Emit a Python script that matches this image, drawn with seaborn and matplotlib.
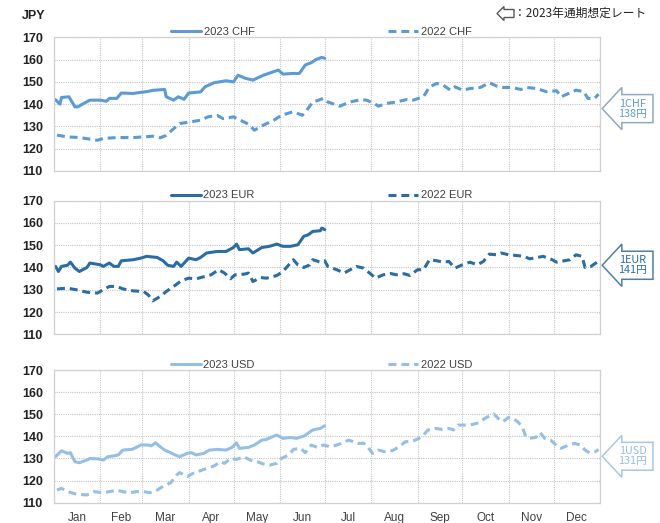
import numpy as np
import pandas as pd
import matplotlib
matplotlib.use("Agg")
import matplotlib.pyplot as plt
import matplotlib.transforms as mtransforms
from matplotlib.patches import Polygon
from matplotlib.lines import Line2D
import seaborn as sns

# ---------------- data ----------------
months = ["Jan", "Feb", "Mar", "Apr", "May", "Jun", "Jul", "Aug", "Sep", "Oct", "Nov", "Dec"]
month_start = [0, 31, 59, 90, 120, 151, 181, 212, 243, 273, 304, 334, 365]
yticks = [110, 120, 130, 140, 150, 160, 170]

currencies = ["CHF", "EUR", "USD"]
budget_rate = [138, 141, 131]

chf23_day = [1, 4, 5, 10, 14, 16, 19, 24, 31, 35, 37, 42, 45, 53, 58, 62, 66, 74, 75, 80,
             83, 87, 90, 98, 101, 107, 115, 120, 123, 128, 133, 140, 150, 153, 160, 164, 168, 172, 175, 179, 181]
chf23 = [142, 140, 143, 143.3, 138.8, 138.8, 140, 141.8, 141.8, 141.3, 142.6, 142.6, 145, 144.8, 145.3, 145.6, 146.2, 146.6, 143.3, 141.8,
         143.3, 142.2, 145, 145.5, 147.8, 149.6, 150.5, 150, 153, 151.6, 150.8, 153, 155.3, 153.5, 153.8, 153.8, 157.6, 158.6, 160, 161, 160.6]

chf22_day = [2, 9, 17, 29, 33, 42, 53, 60, 66, 71, 75, 80, 84, 91, 98, 103, 109, 113, 120, 124,
             130, 134, 140, 147, 152, 160, 166, 169, 173, 177, 180, 183, 191, 198, 205, 209, 214, 217, 222, 229,
             236, 240, 247, 251, 256, 260, 265, 268, 273, 278, 285, 291, 296, 300, 306, 312, 316, 323, 329, 336,
             339, 345, 349, 354, 357, 361, 364]
chf22 = [126.1, 125.3, 125, 123.8, 124.6, 125, 125, 125.3, 125.6, 124.9, 126, 129, 131.3, 132, 132.8, 134.3, 135, 133.5, 134.3, 133,
         131, 128.3, 130.6, 132.8, 135, 136.6, 135, 137.3, 141, 141.8, 142.6, 141, 139.1, 141, 142, 141.8, 140.3, 139.1, 140.3, 141,
         142.1, 141.8, 143.3, 147.8, 149.3, 148.6, 146.3, 147.8, 146.3, 147, 147.5, 149.6, 148.1, 147.5, 147.5, 146.6, 147.5, 147, 145.6, 146,
         143.3, 145.1, 146.3, 145.6, 142.6, 142.3, 144.5]

eur23_day = [1, 3, 5, 9, 11, 14, 17, 22, 24, 31, 33, 37, 40, 43, 45, 53, 58, 62, 69, 73,
             76, 80, 82, 85, 90, 95, 98, 102, 109, 115, 120, 122, 124, 130, 133, 139, 144, 149, 153, 158,
             163, 167, 170, 173, 178, 179, 181]
eur23 = [140.5, 138.2, 140.5, 141, 142.4, 139.7, 138.2, 140, 142, 141.2, 140.5, 142, 140.5, 140.5, 143, 143.5, 144.2, 145, 144.5, 143,
         141, 140.5, 142.4, 140.5, 144.2, 143.5, 144.5, 146.5, 147.2, 147.2, 149, 150.5, 148, 148.4, 146.5, 149, 149.5, 150.5, 149.5, 149.5,
         150.2, 154, 154.7, 156.2, 156.5, 157.7, 157]

eur22_day = [2, 9, 15, 22, 29, 33, 37, 42, 46, 53, 60, 63, 66, 71, 75, 80, 85, 90, 95, 101,
             105, 110, 114, 118, 121, 127, 130, 133, 138, 142, 149, 153, 160, 163, 167, 171, 173, 178, 181, 183,
             189, 194, 198, 202, 207, 211, 215, 220, 225, 229, 234, 238, 243, 247, 251, 256, 260, 264, 268, 273,
             278, 283, 287, 291, 296, 299, 304, 309, 314, 318, 323, 327, 333, 336, 341, 345, 349, 353, 355, 359, 363]
eur22 = [130.4, 130.7, 130, 128.9, 128.5, 130, 131.5, 131.5, 130.4, 129.5, 129.2, 127.7, 125, 127, 129.2, 131.5, 134, 135.2, 134.9, 136,
         136.7, 139, 137.5, 134.9, 136.7, 137, 137.5, 133.7, 135.5, 135.2, 136.4, 138.2, 143.5, 141.2, 140, 141.2, 143.5, 142.4, 143, 140.5,
         139, 137.5, 139, 140.5, 139.7, 137.5, 135.2, 136.7, 137.3, 136.7, 137.2, 136.4, 139, 139, 143.5, 143, 142.4, 142.7, 139.7, 141.2,
         142.4, 141.2, 142.7, 146, 145.7, 146.5, 145.7, 145.4, 145, 143.9, 144.5, 145, 143.5, 142.4, 143, 143.5, 145.7, 145, 140, 140.5, 142.4]

usd23_day = [1, 5, 9, 11, 14, 17, 22, 24, 30, 33, 36, 40, 43, 46, 52, 55, 58, 63, 65, 68,
             71, 74, 78, 81, 84, 89, 92, 95, 100, 104, 109, 115, 119, 122, 124, 130, 134, 139, 142, 147,
             149, 153, 158, 162, 167, 169, 173, 178, 181]
usd23 = [130.8, 133.5, 132.3, 132.6, 128.5, 128.1, 129.3, 130, 129.8, 129.3, 130.8, 131.2, 131.6, 133.8, 134.1, 135, 136.1, 136.1, 135.7, 137.1,
         135.3, 133.8, 132.6, 131.6, 130.8, 132.3, 132.6, 131.6, 132.3, 133.8, 134.1, 133.8, 135, 137.1, 134.6, 135, 136.1, 138.3, 138.6, 140.1,
         140.6, 139.1, 139.5, 139.1, 140.1, 141, 142.9, 143.6, 144.8]

usd22_day = [2, 5, 9, 15, 22, 27, 33, 37, 42, 46, 51, 55, 60, 64, 69, 73, 78, 82, 84, 89,
             93, 98, 102, 107, 111, 114, 118, 122, 127, 131, 136, 140, 144, 149, 152, 157, 160, 165, 168, 172,
             176, 180, 185, 189, 192, 197, 200, 203, 207, 210, 213, 217, 221, 226, 230, 235, 239, 244, 247, 250,
             255, 259, 264, 267, 270, 276, 280, 284, 288, 291, 294, 297, 300, 304, 307, 310, 313, 315, 317, 322,
             325, 328, 332, 334, 337, 339, 344, 348, 352, 355, 358, 362, 364]
usd22 = [115.7, 116.5, 115, 113.9, 113.5, 115, 114.5, 115, 115.7, 115, 114.5, 115, 115, 114.5, 115.7, 117.5, 119, 122.5, 123.6, 121.8,
         123.3, 124.5, 125.5, 126.6, 128.5, 127.8, 130, 129.6, 130.8, 129.3, 128.5, 127.5, 127, 127.8, 130, 131.6, 134.1, 134.6, 132.6, 136.1,
         135, 136.1, 135.3, 136.1, 136.8, 138.3, 137.6, 136.8, 136.9, 135, 132.3, 133.8, 133.1, 133.5, 135, 137.6, 137.6, 139.1, 140.6, 142.9,
         143.6, 143.2, 143.6, 142.9, 145.1, 145.1, 145.4, 146.2, 148.1, 149.2, 150.1, 148.1, 146.6, 148.6, 148.1, 146.6, 144.4, 140.6, 139.1, 139.5,
         141.7, 139.1, 138.3, 137.1, 135, 134.6, 136.1, 136.8, 136.1, 133.8, 132.6, 133.1, 134.1]

colors = ["#5B9BD5", "#2A6DA5", "#95BFE5"]
arrow_edge = ["#8FA9C4", "#4F7FA8", "#A9C8E3"]

series = {
    "CHF": [(chf23_day, chf23), (chf22_day, chf22)],
    "EUR": [(eur23_day, eur23), (eur22_day, eur22)],
    "USD": [(usd23_day, usd23), (usd22_day, usd22)],
}

# ---------------- style ----------------
sns.set_style("white")
plt.rcParams["font.family"] = ["Liberation Sans", "Noto Sans CJK JP", "DejaVu Sans"]

fig = plt.figure(figsize=(6.6, 5.23), dpi=100)
rects = [(0.0818, 0.6731, 0.8273, 0.2555),
         (0.0818, 0.3608, 0.8273, 0.2555),
         (0.0818, 0.0388, 0.8273, 0.2537)]

month_mid = [(month_start[i] + month_start[i + 1]) / 2 for i in range(12)]
dash = (0, (2.6, 1.6))

for i, cur in enumerate(currencies):
    ax = fig.add_axes(rects[i])
    col = colors[i]
    (d23, v23), (d22, v22) = series[cur]
    df23 = pd.DataFrame({"day": d23, "rate": v23})
    df22 = pd.DataFrame({"day": d22, "rate": v22})
    sns.lineplot(data=df22, x="day", y="rate", ax=ax, color=col, lw=2.2,
                 estimator=None, linestyle=dash)
    sns.lineplot(data=df23, x="day", y="rate", ax=ax, color=col, lw=2.2,
                 estimator=None)

    ax.set_xlim(0, 365)
    ax.set_ylim(110, 170)
    ax.set_yticks(yticks)
    ax.set_xticks(month_start)
    ax.set_xticklabels([])
    ax.set_xlabel("")
    ax.set_ylabel("")
    ax.grid(True, which="major", color="#C4C4C4", linestyle=(0, (1, 1)), linewidth=0.8)
    for s in ax.spines.values():
        s.set_color("#D0D0D0")
        s.set_linewidth(0.9)
    ax.tick_params(axis="both", which="both", length=0)
    ax.tick_params(axis="y", pad=8)
    for lab in ax.get_yticklabels():
        lab.set_fontweight("bold")
        lab.set_fontsize(9)
        lab.set_color("#222222")
    if i == 2:
        ax.set_xticks(month_mid, minor=True)
        ax.set_xticklabels(months, minor=True, fontsize=8.5, color="#404040")
        ax.tick_params(axis="x", which="minor", pad=7)

    handles = [Line2D([], [], color=col, lw=2.2),
               Line2D([], [], color=col, lw=2.2, linestyle=dash)]
    leg = ax.legend(handles, [f"2023 {cur}", f"2022 {cur}"], ncol=2, frameon=False,
                    loc="lower center", bbox_to_anchor=(0.49, 0.985), fontsize=8,
                    handlelength=2.7, handletextpad=0.25, columnspacing=12.0,
                    borderpad=0.1, borderaxespad=0.1)
    for t in leg.get_texts():
        t.set_color("#404040")

    # budget rate arrow
    trans = mtransforms.blended_transform_factory(ax.transAxes, ax.transData)
    r = budget_rate[i]
    pts = [(1.004, r), (1.040, r + 9.5), (1.040, r + 6.3), (1.097, r + 6.3),
           (1.097, r - 6.3), (1.040, r - 6.3), (1.040, r - 9.5)]
    poly = Polygon(pts, closed=True, transform=trans, facecolor="white",
                   edgecolor=arrow_edge[i], lw=1.1, clip_on=False, zorder=5)
    ax.add_patch(poly)
    ax.text(1.060, r, f"1{cur}\n{r}円", transform=trans, ha="center", va="center",
            fontsize=7.8, color=col, linespacing=1.0, clip_on=False, zorder=6,
            family=["Noto Sans CJK JP", "DejaVu Sans"])

# JPY label
fig.text(22 / 660, 1 - 16 / 523, "JPY", fontsize=9, fontweight="bold", color="#222222",
         va="center", ha="left")

# legend of arrow icon (top right)
def fx(px):
    return px / 660

def fy(py):
    return 1 - py / 523

icon = [(497, 13.5), (504, 6.5), (504, 9.5), (514, 9.5), (514, 17.5), (504, 17.5), (504, 20.5)]
fig.add_artist(Polygon([(fx(a), fy(b)) for a, b in icon], closed=True,
                       transform=fig.transFigure, facecolor="white", edgecolor="#555555", lw=1.0))
fig.text(fx(514), fy(13.5), "：2023年通期想定レート", fontsize=8.5, va="center", ha="left",
         color="#222222", family=["Noto Sans CJK JP", "DejaVu Sans"])

fig.savefig("out.png", dpi=100)
